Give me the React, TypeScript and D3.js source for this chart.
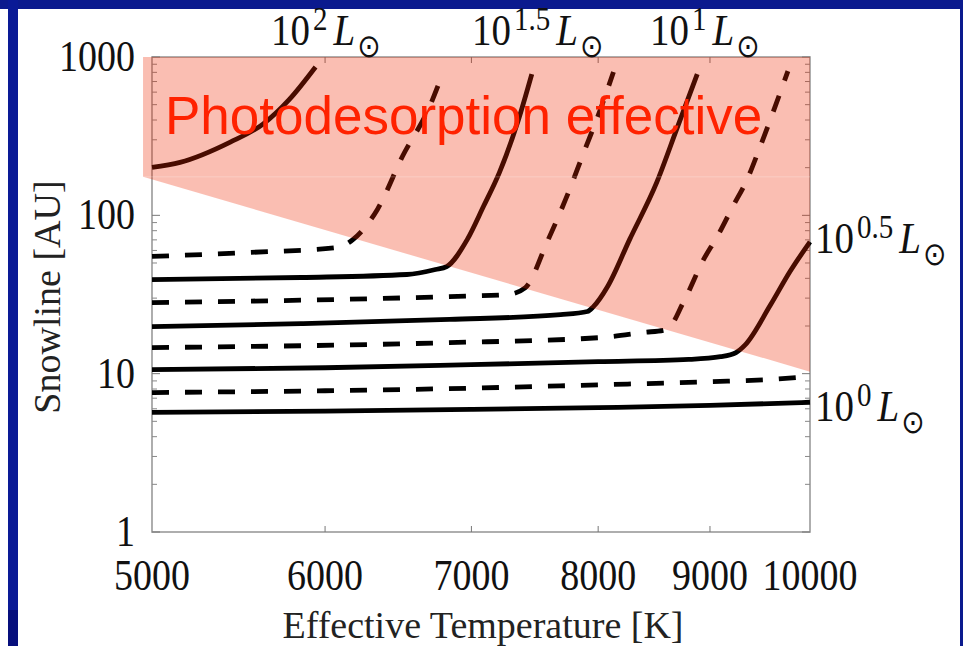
import * as d3 from "d3";

type Pt = [number, number]; // [Teff K, snowline AU]

const tempTicks = [5000, 6000, 7000, 8000, 9000, 10000];
const auTicks = [1, 10, 100, 1000];

// luminosity tracks
const curveL200: Pt[] = [[5000, 201], [5150, 216], [5430, 290], [5620, 377], [5780, 542], [5940, 865]];
const curveL175: Pt[] = [[5000, 55], [5540, 58.3], [6080, 62.7], [6180, 70.5], [6340, 109], [6510, 236], [6700, 490], [6790, 780]];
const curveL150: Pt[] = [[5000, 39.3], [5850, 40.5], [6540, 42.3], [6740, 45.5], [6820, 47.5], [6970, 70.5], [7090, 114], [7210, 187], [7350, 388], [7460, 780]];
const curveL125: Pt[] = [[5000, 28.1], [6840, 30.7], [7270, 31.6], [7410, 35], [7580, 67.5], [7730, 126], [7880, 250], [8020, 469], [8130, 804]];
const curveL100: Pt[] = [[5000, 19.8], [5850, 20.7], [6840, 22], [7690, 23.6], [7910, 24.7], [7960, 26.5], [8080, 35.5], [8270, 70.5], [8510, 162], [8690, 350], [8880, 780]];
const curveL075: Pt[] = [[5000, 14.6], [6840, 15.7], [8020, 16.9], [8390, 18.2], [8600, 19], [8750, 28.1], [8940, 52.7], [9070, 73.6], [9220, 114], [9360, 169], [9490, 273], [9770, 815]];
const curveL050: Pt[] = [[5000, 10.6], [6000, 10.9], [7000, 11.4], [8000, 11.9], [8800, 12.3], [9100, 12.8], [9250, 13.6], [9340, 15.2], [9590, 27], [9790, 44], [10000, 68]];
const curveL025: Pt[] = [[5000, 7.6], [6000, 7.8], [7000, 8.1], [8000, 8.5], [9000, 8.9], [9600, 9.2], [10000, 9.6]];
const curveL000: Pt[] = [[5000, 5.7], [6000, 5.8], [7000, 5.95], [8000, 6.1], [9000, 6.3], [10000, 6.6]];

const solidCurves = [curveL200, curveL150, curveL100, curveL050, curveL000];
const dashedCurves = [curveL175, curveL125, curveL075, curveL025];

// photodesorption region
const photoRegion: Pt[] = [[4953, 1000], [10000, 1000], [10000, 10.3], [4953, 175]];

const W = 963;
const H = 646;
const serif = "'Liberation Serif', 'Times New Roman', serif";

function LumLabel({ x, y, exp }: { x: number; y: number; exp: string }) {
  return (
    <text transform={`translate(${x},${y}) scale(1,1.15)`} fontFamily={serif} fontSize={39} fill="#111">
      <tspan>10</tspan>
      <tspan fontSize={29} dy={-13} dx={3}>{exp}</tspan>
      <tspan fontStyle="italic" dy={13} dx={6}>L</tspan>
      <tspan fontFamily="'DejaVu Sans'" fontSize={28} dy={10} dx={2}>⊙</tspan>
    </text>
  );
}

export default function App() {
  const x = d3.scaleLog().domain([5000, 10000]).range([152, 810]);
  const y = d3.scaleLog().domain([1, 1000]).range([532, 57]);

  const line = d3.line<Pt>()
    .x(d => x(d[0]))
    .y(d => y(d[1]))
    .curve(d3.curveMonotoneX);

  const poly = d3.line<Pt>().x(d => x(d[0])).y(d => y(d[1]));

  const minorTicks: number[] = [];
  [1, 10, 100].forEach(dec => {
    for (let k = 2; k <= 9; k++) minorTicks.push(k * dec);
  });

  const [x0, x1] = x.range();
  const [y0, y1] = y.range();

  return (
    <div style={{ position: "absolute", left: 0, top: 0 }}>
      <svg width={W} height={H} style={{ display: "block" }}>
        <rect width={W} height={H} fill="#fff" />
        {/* slide frame */}
        <rect x={0} y={0} width={W} height={9} fill="#0b1a8e" />
        <rect x={8} y={0} width={10} height={610} fill="#0a1a96" />
        <rect x={8} y={610} width={10} height={36} fill="#070f7c" />
        <rect x={960} y={0} width={3} height={H} fill="#0b1a8e" />

        {/* axes box */}
        <rect x={x0} y={y1} width={x1 - x0} height={y0 - y1} fill="none" stroke="#9a9a9a" strokeWidth={1.6} />
        {tempTicks.slice(1, -1).map(t => (
          <g key={t} stroke="#777" strokeWidth={1}>
            <line x1={x(t)} x2={x(t)} y1={y0} y2={y0 - 6} />
            <line x1={x(t)} x2={x(t)} y1={y1} y2={y1 + 6} />
          </g>
        ))}
        {auTicks.map(v => (
          <g key={v} stroke="#777" strokeWidth={1}>
            <line x1={x0} x2={x0 + 8} y1={y(v)} y2={y(v)} />
            <line x1={x1} x2={x1 - 8} y1={y(v)} y2={y(v)} />
          </g>
        ))}
        {minorTicks.map(v => (
          <g key={v} stroke="#888" strokeWidth={1}>
            <line x1={x0} x2={x0 + 5} y1={y(v)} y2={y(v)} />
            <line x1={x1} x2={x1 - 5} y1={y(v)} y2={y(v)} />
          </g>
        ))}

        {/* tracks */}
        {solidCurves.map((c, i) => (
          <path key={"s" + i} d={line(c) || ""} fill="none" stroke="#000" strokeWidth={4.8} />
        ))}
        {dashedCurves.map((c, i) => (
          <path key={"d" + i} d={line(c) || ""} fill="none" stroke="#000" strokeWidth={4.8} strokeDasharray="17,16" />
        ))}

        {/* photodesorption overlay */}
        <path d={(poly(photoRegion) || "") + "Z"} fill="#f02800" fillOpacity={0.3} />
        <line x1={x(4953)} x2={x(10000)} y1={y(175)} y2={y(175)} stroke="#fff" strokeOpacity={0.25} strokeWidth={1} />
        <text x={165} y={134} fontFamily="'Liberation Sans', Arial, sans-serif" fontSize={53} fill="#ff2200">
          Photodesorption effective
        </text>

        {/* tick labels */}
        {tempTicks.map(t => (
          <text key={t} transform={`translate(${x(t)},${590}) scale(1,1.15)`} textAnchor="middle"
            fontFamily={serif} fontSize={38} fill="#111">{t}</text>
        ))}
        {auTicks.map(v => (
          <text key={v} transform={`translate(${135},${y(v) + 14}) scale(1,1.15)`} textAnchor="end"
            fontFamily={serif} fontSize={38} fill="#111">{v}</text>
        ))}

        {/* axis titles */}
        <text x={(x0 + x1) / 2 + 2} y={638} textAnchor="middle" fontFamily={serif} fontSize={38} fill="#222">
          Effective Temperature [K]
        </text>
        <text transform={`translate(60,${297}) rotate(-90)`} textAnchor="middle" fontFamily={serif} fontSize={38} fill="#222">
          Snowline [AU]
        </text>

        {/* luminosity labels */}
        <LumLabel x={271} y={45} exp="2" />
        <LumLabel x={472} y={45} exp="1.5" />
        <LumLabel x={650} y={45} exp="1" />
        <LumLabel x={815} y={253} exp="0.5" />
        <LumLabel x={815} y={421} exp="0" />
      </svg>
    </div>
  );
}
